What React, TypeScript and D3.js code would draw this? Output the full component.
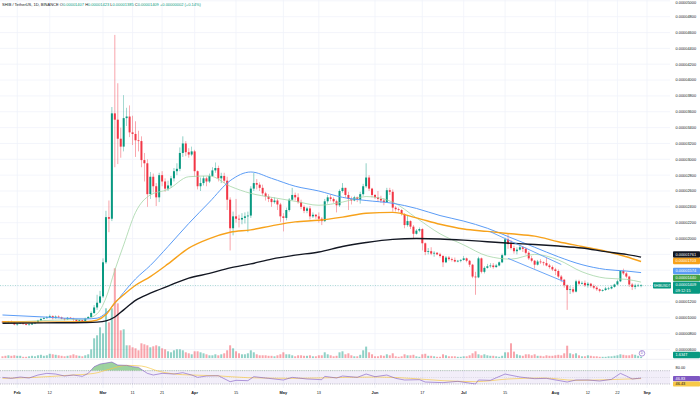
import * as d3 from "d3";

// SHIB/USDT daily, prices in units of 1e-6 USDT
const W = 700;
const H = 397;
const PLOT_R = 670;
const MAIN_B = 358.3;

const firstDay = "2024-01-27";
const firstOpen = 9.5;

// Jan 27 .. Aug 30 (217 candles), open = previous close
const closes = [
  9.45, 9.35, 9.5, 9.4, 9.15,
  9.25, 9.3, 9.2, 9.1, 9.15, 9.3, 9.4, 9.65, 9.85, 9.95, 10.05, 10.2, 9.95, 10.15, 10.05, 9.9, 9.8, 10.0, 9.9, 9.8, 9.6, 9.7, 9.6, 9.9, 10.1, 10.6, 11.3, 11.9, 12.7,
  17.0, 22.7, 22.5, 35.8, 35.0, 32.6, 31.6, 35.2, 35.4, 33.4, 33.2, 32.4, 32.3, 29.9, 29.5, 25.6, 27.8, 26.6, 25.2, 28.0, 27.2, 26.3, 26.7, 27.6, 28.5, 28.8, 30.8, 32.0, 30.9, 30.6, 31.0,
  28.5, 26.6, 27.0, 27.6, 27.2, 27.9, 28.6, 28.9, 27.6, 27.9, 27.3, 24.9, 21.3, 22.8, 22.5, 22.4, 22.6, 22.8, 22.9, 26.3, 27.0, 26.8, 26.4, 25.7, 25.3, 25.0, 24.6, 24.8, 24.3, 22.8,
  22.6, 23.6, 24.9, 25.5, 25.2, 24.6, 24.0, 23.5, 23.8, 22.8, 23.0, 22.8, 22.5, 22.2, 24.7, 25.2, 25.0, 24.7, 24.2, 26.0, 26.4, 25.5, 25.0, 24.8, 25.2, 24.9, 25.6, 26.6, 27.7, 26.3, 25.5,
  25.2, 25.0, 24.8, 24.6, 26.1, 25.9, 23.9, 23.7, 23.6, 23.1, 21.7, 22.2, 21.5, 20.6, 21.0, 21.2, 19.4, 18.3, 18.4, 18.1, 18.2, 18.0, 17.8, 17.0, 17.6, 17.4, 17.3, 17.1, 17.2, 17.3,
  17.5, 17.2, 16.7, 15.2, 15.1, 17.5, 15.8, 16.3, 16.5, 16.6, 16.4, 16.6, 17.0, 17.9, 19.9, 19.3, 18.8, 18.4, 18.6, 18.9, 18.7, 18.2, 17.5, 17.2, 16.7, 17.1, 17.0, 16.9, 16.6, 16.4, 16.1,
  15.9, 15.2, 14.8, 14.1, 13.5, 13.6, 13.3, 14.6, 14.3, 14.4, 14.1, 14.3, 14.0, 13.8, 13.6, 13.4, 13.5, 13.7, 13.7, 13.9, 14.2, 14.6, 15.9, 15.6, 15.2, 14.2, 13.9, 14.07, 14.07, 14.09,
];
const highs = [
  9.6, 9.55, 9.6, 9.65, 9.5,
  9.3, 9.4, 9.35, 9.25, 9.3, 9.4, 9.5, 9.75, 10.0, 10.1, 10.2, 10.4, 10.3, 10.3, 10.3, 10.15, 9.95, 10.1, 10.1, 10.0, 9.85, 9.8, 9.75, 10.0, 10.2, 10.8, 11.6, 12.9, 13.4,
  17.5, 23.5, 24.8, 36.6, 45.7, 39.6, 34.0, 38.1, 36.5, 36.8, 35.5, 34.8, 33.6, 32.9, 30.8, 30.0, 28.4, 28.2, 27.0, 28.3, 28.5, 27.6, 27.3, 27.9, 28.9, 29.5, 31.5, 32.9, 32.3, 31.4, 31.6,
  31.2, 28.6, 27.7, 27.9, 27.8, 28.2, 29.0, 29.6, 29.2, 28.3, 28.3, 27.8, 25.2, 23.4, 25.0, 23.0, 23.2, 23.3, 23.4, 26.6, 28.3, 27.5, 27.1, 26.8, 25.9, 25.6, 25.2, 25.2, 25.0, 24.5,
  23.2, 23.9, 25.1, 26.4, 25.8, 25.7, 24.9, 24.2, 24.0, 24.1, 23.3, 23.1, 23.3, 22.7, 25.0, 25.5, 25.6, 25.2, 24.9, 26.2, 27.0, 26.4, 25.9, 25.3, 25.4, 25.3, 25.9, 26.9, 29.5, 28.0, 26.4,
  25.6, 26.0, 25.4, 25.1, 26.4, 26.4, 26.2, 24.1, 23.9, 23.7, 23.2, 22.9, 22.3, 21.7, 21.2, 21.4, 21.3, 19.5, 18.8, 18.9, 18.4, 18.3, 18.2, 17.9, 17.8, 17.8, 17.6, 17.6, 17.3, 17.4,
  17.8, 17.6, 17.3, 16.8, 15.8, 17.7, 17.6, 16.5, 16.8, 16.9, 16.9, 16.8, 17.1, 18.1, 20.1, 20.7, 19.8, 19.1, 18.9, 19.2, 19.0, 18.9, 18.4, 17.8, 17.3, 17.3, 17.4, 17.1, 17.6, 16.8, 16.6,
  16.3, 16.1, 15.4, 14.9, 14.2, 14.0, 13.9, 14.8, 14.8, 14.6, 14.7, 14.5, 14.4, 14.2, 14.0, 13.7, 13.6, 13.9, 13.9, 14.1, 14.3, 14.8, 16.0, 16.2, 15.8, 15.3, 14.4, 14.3, 14.3, 14.23,
];
const lows = [
  9.35, 9.25, 9.3, 9.35, 9.05,
  9.0, 9.2, 9.15, 9.05, 9.05, 9.1, 9.2, 9.35, 9.6, 9.8, 9.9, 9.95, 9.8, 9.9, 9.95, 9.8, 9.65, 9.75, 9.85, 9.55, 9.45, 9.5, 9.5, 9.55, 9.85, 10.0, 10.5, 11.0, 11.8,
  12.5, 16.8, 20.8, 22.2, 29.0, 29.4, 30.2, 31.0, 34.2, 32.8, 31.8, 30.3, 31.0, 29.0, 27.2, 24.0, 25.0, 25.8, 24.1, 24.6, 26.6, 25.9, 26.0, 26.4, 27.2, 28.0, 28.5, 30.3, 30.4, 30.2, 30.4,
  27.8, 26.2, 26.0, 26.7, 26.6, 27.0, 27.8, 28.3, 27.2, 27.0, 27.0, 23.6, 18.5, 20.4, 22.0, 21.4, 21.8, 21.9, 20.8, 22.6, 26.0, 26.2, 26.0, 25.4, 24.8, 24.6, 24.0, 24.4, 23.6, 22.1,
  20.9, 22.3, 23.4, 24.8, 24.8, 24.4, 23.7, 23.2, 23.2, 22.4, 22.6, 22.5, 22.0, 21.7, 22.1, 24.4, 24.7, 24.5, 23.3, 24.0, 25.8, 25.2, 23.6, 24.3, 24.7, 24.6, 24.4, 25.4, 26.4, 26.0, 25.2,
  25.0, 24.7, 24.5, 24.2, 24.5, 25.5, 23.4, 23.4, 23.4, 22.9, 21.3, 21.5, 21.2, 20.0, 20.5, 20.8, 18.5, 17.9, 18.0, 17.9, 17.7, 17.9, 17.6, 16.4, 16.9, 17.2, 17.1, 17.0, 17.0, 17.0,
  17.2, 17.0, 16.4, 15.0, 12.9, 15.0, 15.6, 15.6, 16.2, 16.3, 16.2, 16.3, 16.5, 16.9, 17.8, 18.7, 18.6, 18.1, 18.0, 18.5, 18.3, 18.0, 17.3, 17.0, 16.2, 16.6, 16.8, 16.6, 16.5, 16.2, 15.9,
  15.4, 15.0, 14.5, 13.8, 11.0, 13.0, 13.1, 13.2, 14.1, 14.2, 13.9, 13.8, 13.8, 13.6, 13.4, 13.2, 13.3, 13.4, 13.5, 13.6, 13.8, 14.1, 14.5, 15.4, 15.0, 13.9, 13.5, 13.6, 13.9, 13.85,
];
// trillion SHIB
const volumes = [
  2, 2.5, 3, 2.5, 3,
  2.5, 2.5, 1.5, 1.5, 2, 2.5, 2, 3, 3.5, 2.5, 3, 4.5, 4, 3.5, 3, 2.5, 2, 2.5, 3, 4, 3, 2.5, 2, 3, 4, 9, 20, 23, 31,
  25, 50, 36, 50, 90, 55, 28, 29, 13, 13, 11, 10, 8, 15, 14, 13, 11, 12, 13, 12, 10, 9, 7, 6, 8, 9, 9, 8, 6, 5, 4,
  7, 7, 6, 5, 4, 3, 3, 4, 3, 4, 5, 8, 13, 10, 7, 5, 4, 4, 5, 8, 6, 4, 3, 3, 3, 2.5, 2.5, 2, 3, 4,
  6, 4, 4, 3, 2, 3, 3, 2.5, 2.5, 3, 2, 2, 3, 3, 6, 4, 3, 2, 2.5, 6, 7, 4, 5, 3, 2, 2, 3.5, 8, 11.7, 6, 4,
  2, 2, 3, 2.5, 4, 3, 5, 2, 1.5, 2, 4, 3, 3, 3.5, 2, 1.5, 4, 4.5, 2.5, 2.5, 2, 1.5, 1.5, 4, 3, 2, 2, 2, 1.5, 1.5,
  2, 2, 3, 5, 7, 4, 3, 4, 3, 2.5, 2.5, 2, 1.5, 2.5, 6, 6, 15, 6.7, 4, 3, 2.5, 4, 4, 3, 4, 2.5, 2.5, 2, 3, 2.5, 2.5,
  3, 3.5, 3, 5, 12.6, 5, 4, 5, 3, 2, 2, 3, 2.5, 2, 2, 1.5, 1.5, 1.5, 2, 2, 2.5, 3, 4, 3.5, 3, 3, 4, 3.5, 2.5, 1.634,
];

// moving averages read at sample dates
const maDates = [
  "2024-01-27", "2024-02-10", "2024-02-24", "2024-02-28", "2024-03-02", "2024-03-05", "2024-03-08", "2024-03-12",
  "2024-03-17", "2024-03-23", "2024-03-30", "2024-04-06", "2024-04-13", "2024-04-20", "2024-04-27", "2024-05-05",
  "2024-05-13", "2024-05-21", "2024-05-29", "2024-06-07", "2024-06-15", "2024-06-23", "2024-07-01", "2024-07-09",
  "2024-07-17", "2024-07-25", "2024-08-02", "2024-08-10", "2024-08-18", "2024-08-25", "2024-08-30",
];
const ma20 = [9.4, 9.65, 9.85, 10.5, 12.5, 16.0, 19.2, 23.3, 25.5, 26.2, 27.8, 27.9, 26.6, 25.7, 25.2, 24.7, 24.2, 24.6, 25.3, 24.6, 22.6, 20.6, 19.2, 17.8, 17.4, 18.0, 17.3, 15.8, 15.0, 14.85, 14.5];
const ma50 = [10.35, 10.1, 9.85, 9.95, 10.6, 11.8, 13.2, 14.9, 16.6, 19.0, 21.9, 24.6, 27.3, 28.4, 27.6, 26.6, 26.0, 25.2, 24.8, 24.45, 23.8, 22.9, 22.2, 21.3, 20.1, 18.9, 17.7, 16.7, 16.1, 15.9, 15.7];
const ma100 = [9.5, 9.45, 9.5, 9.7, 10.4, 11.9, 12.9, 14.1, 15.2, 16.8, 18.8, 20.0, 20.8, 21.1, 21.6, 22.1, 22.3, 22.7, 23.2, 23.3, 22.6, 21.8, 21.2, 20.9, 20.6, 20.3, 19.6, 19.0, 18.4, 17.7, 17.1];
const ma200 = [9.3, 9.35, 9.4, 9.45, 9.6, 10.1, 11.0, 12.2, 13.1, 14.0, 15.0, 15.6, 16.3, 16.8, 17.4, 17.9, 18.3, 19.0, 19.5, 19.9, 20.0, 19.95, 19.8, 19.6, 19.4, 19.25, 19.05, 18.8, 18.35, 18.0, 17.65];

// drawn channel
const channelUpperDates = ["2024-07-10", "2024-08-03"];
const channelUpper = [20.86, 16.72];
const channelLowerDates = ["2024-07-16", "2024-08-04"];
const channelLower = [17.5, 14.55];

// RSI pane
const rsiDates = [
  "2024-01-27", "2024-01-30", "2024-02-02", "2024-02-05", "2024-02-08", "2024-02-11", "2024-02-14", "2024-02-17",
  "2024-02-20", "2024-02-23", "2024-02-25", "2024-02-27", "2024-02-29", "2024-03-02", "2024-03-04", "2024-03-06",
  "2024-03-09", "2024-03-11", "2024-03-13", "2024-03-16", "2024-03-18", "2024-03-21", "2024-03-25", "2024-03-28",
  "2024-03-31", "2024-04-02", "2024-04-05", "2024-04-09", "2024-04-13", "2024-04-15", "2024-04-19", "2024-04-21",
  "2024-04-26", "2024-05-01", "2024-05-04", "2024-05-09", "2024-05-14", "2024-05-15", "2024-05-19", "2024-05-21",
  "2024-05-26", "2024-05-29", "2024-06-01", "2024-06-05", "2024-06-08", "2024-06-11", "2024-06-16", "2024-06-18",
  "2024-06-24", "2024-06-29", "2024-07-05", "2024-07-06", "2024-07-10", "2024-07-15", "2024-07-16", "2024-07-20",
  "2024-07-25", "2024-07-29", "2024-08-05", "2024-08-08", "2024-08-12", "2024-08-16", "2024-08-20", "2024-08-23",
  "2024-08-25", "2024-08-27", "2024-08-30",
];
const rsiValues = [
  50, 47, 51, 48, 57, 62, 60, 54, 57, 53, 62, 82, 90, 93, 96, 87, 86, 82, 80, 62, 57, 62, 60, 64, 57, 50, 54, 55, 37, 41,
  40, 52, 47, 42, 50, 45, 43, 53, 48, 54, 50, 60, 52, 57, 47, 42, 43, 36, 34, 38, 30, 42, 41, 60, 58, 51, 46, 47, 36, 42,
  42, 39, 44, 62, 54, 45, 48,
];
const rsiMaDates = [
  "2024-01-27", "2024-02-07", "2024-02-18", "2024-02-27", "2024-03-03", "2024-03-09", "2024-03-14", "2024-03-20",
  "2024-03-28", "2024-04-08", "2024-04-19", "2024-05-05", "2024-05-22", "2024-06-02", "2024-06-13", "2024-06-24",
  "2024-07-05", "2024-07-16", "2024-07-28", "2024-08-08", "2024-08-19", "2024-08-30",
];
const rsiMaValues = [47, 50, 56, 62, 74, 86, 84, 68, 58, 55, 49, 47, 50, 51, 47, 40, 37, 45, 48, 41, 43, 46.4];

// axis labels
const priceGrid = [6, 8, 10, 12, 14, 16, 18, 20, 22, 24, 26, 28, 30, 32, 34, 36, 38, 40, 42, 44, 46, 48, 50];
const priceLabels = [6, 8, 10, 12, 20, 22, 24, 26, 28, 30, 32, 34, 36, 38, 40, 42, 44, 46, 48, 50];
const dateTicks = [
  ["2024-02-01", "Feb"], ["2024-02-12", "12"], ["2024-03-01", "Mar"], ["2024-03-11", "11"], ["2024-03-21", "21"],
  ["2024-04-01", "Apr"], ["2024-04-15", "15"], ["2024-05-01", "May"], ["2024-05-13", "13"], ["2024-06-01", "Jun"],
  ["2024-06-17", "17"], ["2024-07-01", "Jul"], ["2024-07-15", "15"], ["2024-08-01", "Aug"], ["2024-08-12", "12"],
  ["2024-08-22", "22"], ["2024-09-01", "Sep"],
];

const UP = "#089981";
const DOWN = "#F23645";
const FONT = '"Liberation Sans", Arial, sans-serif';

const parse = d3.utcParse("%Y-%m-%d");
const fmtPrice = (p: number) => (p / 1e6).toFixed(8);

const x = d3.scaleUtc()
  .domain([parse("2024-03-01")!, parse("2024-09-01")!])
  .range([103, 647]);
const y = d3.scaleLinear().domain([0, 26]).range([397, 191]);
const yVol = d3.scaleLinear().domain([0, 90]).range([MAIN_B, 268.3]);
const yRsi = d3.scaleLinear().domain([30, 70]).range([384, 370.7]);

const start = parse(firstDay)!;
const candles = closes.map((c, i) => ({
  date: d3.utcDay.offset(start, i),
  open: i === 0 ? firstOpen : closes[i - 1],
  close: c,
  high: highs[i],
  low: lows[i],
  volume: volumes[i],
}));

const series = (dates: string[], vals: number[]) =>
  dates.map((d, i) => [parse(d)!, vals[i]] as [Date, number]);

const maLine = d3.line<[Date, number]>()
  .x(d => x(d[0]))
  .y(d => y(d[1]))
  .curve(d3.curveMonotoneX);
const straight = d3.line<[Date, number]>()
  .x(d => x(d[0]))
  .y(d => y(d[1]));
const rsiLine = d3.line<[Date, number]>()
  .x(d => x(d[0]))
  .y(d => yRsi(d[1]));
const rsiMaLine = d3.line<[Date, number]>()
  .x(d => x(d[0]))
  .y(d => yRsi(d[1]))
  .curve(d3.curveMonotoneX);
const rsiArea = (ref: number) => d3.area<[Date, number]>()
  .x(d => x(d[0]))
  .y0(yRsi(ref))
  .y1(d => yRsi(d[1]));

const rsiData = series(rsiDates, rsiValues);
const last = candles[candles.length - 1];

const AxisBox = ({cy, fill, text, color = "#fff", h = 6.3}: {cy: number; fill: string; text: string; color?: string; h?: number}) => (
  <g>
    <rect x={673} y={cy - h / 2} width={27} height={h} fill={fill} rx={0.8}/>
    <text x={675.5} y={cy} dy="0.35em" fontSize={3.9} fill={color}>{text}</text>
  </g>
);

const App = () => {
  const bodyW = 2;
  return (
    <svg width={W} height={H} style={{position: "fixed", left: 0, top: 0, background: "#fff"}} fontFamily={FONT}>
      <defs>
        <clipPath id="plot"><rect x={0} y={0} width={PLOT_R} height={MAIN_B}/></clipPath>
        <clipPath id="above70"><rect x={0} y={355} width={PLOT_R} height={yRsi(70) - 355}/></clipPath>
        <clipPath id="below30"><rect x={0} y={yRsi(30)} width={PLOT_R} height={390 - yRsi(30)}/></clipPath>
      </defs>

      {/* grid */}
      {priceGrid.map(p => (
        <line key={p} x1={0} x2={PLOT_R} y1={y(p)} y2={y(p)} stroke="#f0f3fa" strokeWidth={0.8}/>
      ))}
      {dateTicks.map(([d]) => (
        <line key={d} x1={x(parse(d)!)} x2={x(parse(d)!)} y1={0} y2={388} stroke="#f0f3fa" strokeWidth={0.8}/>
      ))}

      <g clipPath="url(#plot)">
        {/* volume */}
        {candles.map(c => (
          <rect key={"v" + +c.date} x={x(c.date) - bodyW / 2} y={yVol(c.volume)} width={bodyW}
                height={MAIN_B - yVol(c.volume)} fill={c.close >= c.open ? UP : DOWN} opacity={0.45}/>
        ))}

        {/* candles */}
        {candles.map(c => {
          const col = c.close >= c.open ? UP : DOWN;
          const top = y(Math.max(c.open, c.close));
          const bot = y(Math.min(c.open, c.close));
          return (
            <g key={"c" + +c.date}>
              <line x1={x(c.date)} x2={x(c.date)} y1={y(c.high)} y2={y(c.low)} stroke={col} strokeWidth={0.6} opacity={0.75}/>
              <rect x={x(c.date) - bodyW / 2} y={top} width={bodyW} height={Math.max(0.6, bot - top)} fill={col}/>
            </g>
          );
        })}

        {/* moving averages */}
        <path d={maLine(series(maDates, ma20))!} fill="none" stroke="#a5d6a7" strokeWidth={0.8}/>
        <path d={maLine(series(maDates, ma50))!} fill="none" stroke="#5b9cf6" strokeWidth={1}/>
        <path d={maLine(series(maDates, ma100))!} fill="none" stroke="#f7a21b" strokeWidth={1.4}/>
        <path d={maLine(series(maDates, ma200))!} fill="none" stroke="#131722" strokeWidth={1.4}/>

        {/* channel */}
        <path d={straight(series(channelUpperDates, channelUpper))!} fill="none" stroke="#5b9cf6" strokeWidth={0.9}/>
        <path d={straight(series(channelLowerDates, channelLower))!} fill="none" stroke="#5b9cf6" strokeWidth={0.9}/>

        {/* last price line */}
        <line x1={0} x2={653} y1={y(last.close)} y2={y(last.close)} stroke={UP} strokeWidth={0.6}
              strokeDasharray="1 1.5" opacity={0.6}/>
      </g>

      {/* symbol tag */}
      <rect x={653} y={y(last.close) - 3.2} width={18} height={6.4} fill={UP} rx={0.8}/>
      <text x={662} y={y(last.close)} dy="0.35em" fontSize={3.4} fill="#fff" textAnchor="middle">SHIBUSDT</text>

      {/* event marker */}
      <circle cx={642} cy={353.3} r={2.8} fill="#fff" stroke="#7e57c2" strokeWidth={0.6}/>
      <text x={642} y={353.3} dy="0.35em" fontSize={3.2} fill="#7e57c2" textAnchor="middle">D</text>

      {/* pane separators */}
      <line x1={0} x2={W} y1={359.3} y2={359.3} stroke="#e0e3eb" strokeWidth={0.6}/>

      {/* RSI pane */}
      <rect x={0} y={yRsi(70)} width={PLOT_R} height={yRsi(30) - yRsi(70)} fill="#7e57c2" opacity={0.1}/>
      <line x1={0} x2={PLOT_R} y1={yRsi(70)} y2={yRsi(70)} stroke="#787b86" strokeWidth={0.5} strokeDasharray="1 1.2"/>
      <line x1={0} x2={PLOT_R} y1={yRsi(50)} y2={yRsi(50)} stroke="#787b86" strokeWidth={0.4} strokeDasharray="1 1.2" opacity={0.5}/>
      <line x1={0} x2={PLOT_R} y1={yRsi(30)} y2={yRsi(30)} stroke="#787b86" strokeWidth={0.5} strokeDasharray="1 1.2"/>
      <path d={rsiArea(70)(rsiData)!} fill="#4caf50" opacity={0.55} clipPath="url(#above70)"/>
      <path d={rsiArea(30)(rsiData)!} fill={DOWN} opacity={0.4} clipPath="url(#below30)"/>
      <path d={rsiMaLine(series(rsiMaDates, rsiMaValues))!} fill="none" stroke="#f7c948" strokeWidth={0.7}/>
      <path d={rsiLine(rsiData)!} fill="none" stroke="#7e57c2" strokeWidth={0.6}/>

      {/* price axis */}
      {priceLabels.map(p => (
        <text key={p} x={675.5} y={Math.max(2.4, y(p))} dy="0.35em" fontSize={3.9} fill="#131722">{fmtPrice(p)}</text>
      ))}
      <AxisBox cy={254.5} fill="#131722" text={fmtPrice(ma200[ma200.length - 1] - 0.04)}/>
      <AxisBox cy={261} fill="#f7a21b" text="0.00001703"/>
      <AxisBox cy={271} fill="#5b9cf6" text="0.00001574"/>
      <AxisBox cy={277.8} fill="#43a047" text="0.00001440"/>
      <g>
        <rect x={673} y={281.4} width={27} height={12.4} fill={UP} rx={0.8}/>
        <text x={675.5} y={284.5} dy="0.35em" fontSize={3.9} fill="#fff">{fmtPrice(last.close)}</text>
        <text x={675.5} y={290.3} dy="0.35em" fontSize={3.9} fill="#fff">09:12:15</text>
      </g>
      <AxisBox cy={355} fill={UP} text={`${last.volume.toFixed(3)}T`}/>
      <text x={675.5} y={367.5} dy="0.35em" fontSize={3.9} fill="#131722">80.00</text>
      <AxisBox cy={378.6} fill="#7e57c2" text="46.83" h={5.2}/>
      <AxisBox cy={384} fill="#f7c948" text="46.43" color="#131722" h={5.2}/>

      {/* time axis */}
      {dateTicks.map(([d, label]) => (
        <text key={d} x={x(parse(d)!)} y={392.5} dy="0.35em" fontSize={3.9} textAnchor="middle"
              fill="#131722" fontWeight={/[A-Za-z]/.test(label) ? 600 : 400}>{label}</text>
      ))}

      {/* legend */}
      <text x={2} y={5} dy="0.35em" fontSize={4} fill="#131722">
        SHIB / TetherUS, 1D, BINANCE{" "}
        <tspan>O</tspan><tspan fill={UP}>{fmtPrice(last.open)}</tspan>{" "}
        <tspan>H</tspan><tspan fill={UP}>{fmtPrice(last.high)}</tspan>{" "}
        <tspan>L</tspan><tspan fill={UP}>{fmtPrice(last.low)}</tspan>{" "}
        <tspan>C</tspan><tspan fill={UP}>{fmtPrice(last.close)}</tspan>{" "}
        <tspan fill={UP}>+0.00000002 (+0.14%)</tspan>
      </text>
    </svg>
  );
};

export default App;
